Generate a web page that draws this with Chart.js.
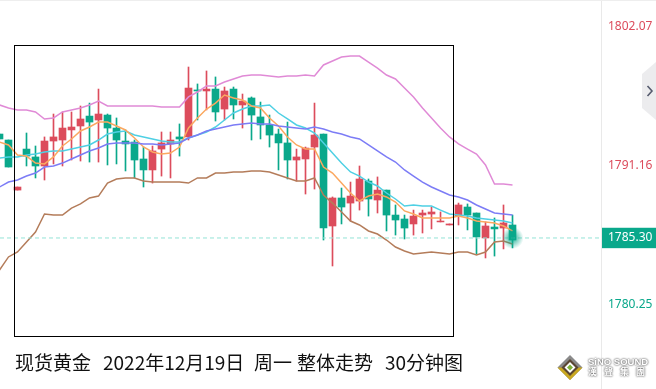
<!DOCTYPE html>
<html>
<head>
  <meta charset="utf-8">
  <title>现货黄金 30分钟图</title>
  <script src="https://cdn.jsdelivr.net/npm/chart.js"></script>
  <style>
    html, body { margin: 0; padding: 0; background: #fff; overflow: hidden; }
    #wrap { position: relative; width: 656px; height: 389px; }
    #wrap canvas { position: absolute; left: 0; top: 0; }
    /* black frame drawn over the chart */
    #frame { position: absolute; left: 14px; top: 45px; width: 438px; height: 290px; border: 1.5px solid #000; }
    #topline { position: absolute; left: 0; top: 0; width: 656px; height: 1px; background: #eee; }
    .title {
      position: absolute; top: 349px; white-space: pre; color: #111;
      font: 19px/26px "Noto Sans CJK SC", sans-serif;
    }
    #tab {
      position: absolute; left: 642px; top: 62px; width: 14px; height: 58px; background: #ececee;
      clip-path: polygon(0 12px, 14px 0, 14px 58px, 0 46px);
    }
    #tab svg { position: absolute; left: 4px; top: 22px; }
    #logo { position: absolute; left: 556px; top: 354px; }
    #logotext {
      position: absolute; left: 588px; top: 357px; color: #fff; font: bold 9.5px/10px "Liberation Sans", sans-serif;
      text-shadow: 0 0 2px #666, 0 0 2px #666; white-space: pre;
    }
    #logotext span { font: bold 9px/10px "Noto Sans CJK TC", sans-serif; letter-spacing: 7px; }
  </style>
</head>
<body>
  <div id="wrap">
    <canvas id="goldChart" width="656" height="389"></canvas>
    <div id="topline"></div>
    <div id="frame"></div>
    <div id="tab"><svg width="8" height="14"><path d="M1.5 2 L6 7 L1.5 12" fill="none" stroke="#555b6e" stroke-width="1.6"/></svg></div>
    <div class="title" style="left:15px">现货黄金</div>
    <div class="title" style="left:103px">2022年12月19日</div>
    <div class="title" style="left:254px">周一</div>
    <div class="title" style="left:297px">整体走势</div>
    <div class="title" style="left:385px">30分钟图</div>
    <svg id="logo" width="28" height="28" viewBox="0 0 28 28">
      <polygon points="14,1 26.5,13.5 14,26 1.5,13.5" fill="#8a8a8a"/>
      <polygon points="1.5,13.5 14,26 26.5,13.5 21,13.5 14,20.5 7,13.5" fill="#c9a820"/>
      <polygon points="14,5 22.5,13.5 14,22 5.5,13.5" fill="#5a4632"/>
      <polygon points="14,8 19.5,13.5 14,19 8.5,13.5" fill="#fff"/>
      <polygon points="14,10.5 17,13.5 14,16.5 11,13.5" fill="#7fb23a"/>
    </svg>
    <div id="logotext">SiNO SOUND
<span>漢聲集團</span></div>
  </div>

  <script>
    const opens = [1793.67, 1793.20, 1789.27, 1792.49, 1791.87, 1791.16, 1793.12, 1793.20, 1793.99, 1794.30, 1795.08, 1794.77, 1795.16, 1794.14, 1793.12, 1793.04, 1791.71, 1790.85, 1792.49, 1792.89, 1793.44, 1793.44, 1797.13, 1797.05, 1797.20, 1795.63, 1797.20, 1795.95, 1796.50, 1795.01, 1794.38, 1793.67, 1792.97, 1791.63, 1791.71, 1792.65, 1793.67, 1786.45, 1788.65, 1788.25, 1788.41, 1789.98, 1788.49, 1789.27, 1787.31, 1787.00, 1786.61, 1787.31, 1787.39, 1786.77, 1786.53, 1787.23, 1787.94, 1787.47, 1785.51, 1786.37, 1786.29, 1786.53];
    const closes = [1793.28, 1791.08, 1789.51, 1791.94, 1791.16, 1793.12, 1793.44, 1794.14, 1794.22, 1794.85, 1794.61, 1795.24, 1794.14, 1793.20, 1792.89, 1791.63, 1790.85, 1792.34, 1792.97, 1793.20, 1793.28, 1797.28, 1797.05, 1797.20, 1795.40, 1797.05, 1795.95, 1796.26, 1795.16, 1794.38, 1793.59, 1792.97, 1791.63, 1791.87, 1792.57, 1793.59, 1786.29, 1788.65, 1787.94, 1788.80, 1790.14, 1788.57, 1789.27, 1787.31, 1786.92, 1786.29, 1787.23, 1787.47, 1787.55, 1786.84, 1786.61, 1788.10, 1787.31, 1785.59, 1786.45, 1786.22, 1786.69, 1785.35];
    const highs = [1793.67, 1793.20, 1789.51, 1793.75, 1792.73, 1793.44, 1795.24, 1795.40, 1795.40, 1795.87, 1796.10, 1797.20, 1795.24, 1794.93, 1793.99, 1793.20, 1792.65, 1792.73, 1793.83, 1793.83, 1794.46, 1798.93, 1797.60, 1798.62, 1798.15, 1797.36, 1797.36, 1796.81, 1796.58, 1796.18, 1795.16, 1794.06, 1794.61, 1792.49, 1792.65, 1796.10, 1793.67, 1788.73, 1789.43, 1789.90, 1791.16, 1790.14, 1790.30, 1789.27, 1788.10, 1787.31, 1787.70, 1787.70, 1787.94, 1787.55, 1786.61, 1788.25, 1788.18, 1787.47, 1786.77, 1787.08, 1788.10, 1787.31];
    const lows = [1793.28, 1791.08, 1789.27, 1791.16, 1790.22, 1790.06, 1791.32, 1791.16, 1791.63, 1791.55, 1791.47, 1791.47, 1791.24, 1791.32, 1790.77, 1790.22, 1789.51, 1789.82, 1790.37, 1790.22, 1791.94, 1793.20, 1794.77, 1795.56, 1794.69, 1794.77, 1794.85, 1794.14, 1793.20, 1793.28, 1792.65, 1790.85, 1790.14, 1789.98, 1788.96, 1789.35, 1785.35, 1783.31, 1786.61, 1786.84, 1787.70, 1787.23, 1787.47, 1786.06, 1785.74, 1785.43, 1785.74, 1785.90, 1786.22, 1786.77, 1786.53, 1786.53, 1786.14, 1784.25, 1783.94, 1784.09, 1784.65, 1784.73];

    // bollinger bands and moving averages
    const upperBand = [1795.95, 1795.71, 1795.56, 1795.56, 1795.40, 1794.85, 1794.93, 1795.40, 1795.56, 1795.71, 1795.95, 1796.26, 1795.87, 1795.87, 1795.87, 1795.87, 1795.87, 1795.87, 1795.79, 1795.79, 1795.79, 1796.58, 1796.97, 1797.44, 1797.44, 1797.75, 1797.99, 1798.22, 1798.30, 1798.30, 1798.22, 1798.15, 1798.22, 1798.22, 1798.30, 1798.22, 1799.09, 1799.40, 1799.72, 1799.79, 1799.79, 1799.32, 1798.85, 1798.30, 1797.99, 1797.28, 1796.58, 1795.71, 1794.93, 1794.14, 1793.44, 1792.89, 1792.49, 1792.10, 1791.24, 1789.75, 1789.75, 1789.67];
    const midBand = [1789.51, 1789.90, 1790.06, 1790.37, 1790.61, 1791.08, 1791.16, 1791.39, 1791.71, 1792.02, 1792.34, 1792.57, 1792.89, 1792.97, 1792.97, 1792.97, 1792.89, 1792.89, 1792.81, 1792.89, 1792.97, 1793.36, 1793.59, 1793.91, 1794.06, 1794.22, 1794.38, 1794.46, 1794.53, 1794.46, 1794.46, 1794.30, 1794.22, 1794.14, 1794.06, 1794.22, 1794.06, 1793.83, 1793.67, 1793.44, 1793.28, 1792.81, 1792.34, 1791.87, 1791.47, 1790.85, 1790.37, 1789.90, 1789.51, 1789.20, 1788.88, 1788.73, 1788.49, 1788.10, 1787.78, 1787.47, 1787.39, 1787.31];
    const lowerBand = [1782.98, 1784.02, 1784.41, 1785.20, 1785.98, 1787.39, 1787.31, 1787.31, 1787.86, 1788.18, 1788.65, 1788.80, 1789.82, 1790.14, 1790.22, 1790.22, 1789.98, 1789.90, 1789.90, 1789.90, 1789.90, 1789.82, 1790.22, 1790.22, 1790.61, 1790.61, 1790.69, 1790.69, 1790.77, 1790.77, 1790.69, 1790.45, 1790.22, 1789.98, 1789.98, 1790.22, 1788.88, 1788.25, 1787.55, 1786.84, 1786.53, 1786.06, 1785.82, 1785.35, 1784.80, 1784.49, 1784.25, 1784.33, 1784.41, 1784.33, 1784.25, 1784.41, 1784.41, 1784.17, 1784.41, 1785.20, 1785.27, 1785.04];
    const maFast = [1793.04, 1792.81, 1792.02, 1791.94, 1791.39, 1791.32, 1791.87, 1792.73, 1793.28, 1793.91, 1794.22, 1794.61, 1794.61, 1794.30, 1793.99, 1793.36, 1792.65, 1792.26, 1792.10, 1792.18, 1792.65, 1794.14, 1794.93, 1795.63, 1796.10, 1796.73, 1796.50, 1796.34, 1795.87, 1795.71, 1794.93, 1794.30, 1793.44, 1792.81, 1792.49, 1792.49, 1791.08, 1790.61, 1789.82, 1789.04, 1788.41, 1788.80, 1788.96, 1788.73, 1788.33, 1787.63, 1787.39, 1787.08, 1787.08, 1787.08, 1787.08, 1787.23, 1787.08, 1786.84, 1786.77, 1786.69, 1786.45, 1786.06];
    const maSlow = [1791.79, 1791.87, 1791.87, 1792.02, 1792.10, 1792.26, 1792.34, 1792.34, 1792.49, 1792.65, 1792.81, 1793.20, 1793.67, 1793.83, 1793.91, 1793.59, 1793.44, 1793.28, 1793.12, 1793.04, 1793.04, 1793.36, 1793.59, 1793.83, 1794.22, 1794.77, 1795.32, 1795.63, 1795.87, 1795.87, 1795.95, 1795.32, 1794.85, 1794.38, 1794.14, 1793.75, 1792.97, 1792.18, 1791.39, 1790.69, 1790.37, 1789.90, 1789.59, 1789.04, 1788.57, 1788.02, 1788.10, 1788.02, 1788.02, 1787.70, 1787.39, 1787.31, 1787.23, 1787.08, 1787.00, 1786.92, 1786.84, 1786.69];

    const tickValues = [1780.25, 1785.51, 1791.16, 1802.07];
    const tickLabels = ['1780.25', '1785.30', '1791.16', '1802.07'];
    const lastPriceLevel = 1785.51;

    const red = '#dc4c5c';
    const green = '#0aa88b';
    const xMin = 0.056;
    const xMax = 66.833;

    const candleColor = opens.map((o, i) => closes[i] >= o ? red : green);
    const bodies = opens.map((o, i) => ({ x: i, y: [o, closes[i]] }));
    const wicks = lows.map((l, i) => ({ x: i, y: [l, highs[i]] }));
    const toLine = arr => arr.map((v, i) => ({ x: i, y: v }));

    function lineSet(label, arr, color) {
      return {
        type: 'line', label: label, data: toLine(arr), borderColor: color,
        borderWidth: 1.5, pointRadius: 0, tension: 0, order: 2
      };
    }

    const chart = new Chart(document.getElementById('goldChart').getContext('2d'), {
      data: {
        datasets: [
          // glow on the last price
          {
            type: 'scatter', label: 'last', data: [{ x: opens.length - 1, y: lastPriceLevel }], order: 0,
            pointRadius: 11, borderWidth: 0,
            backgroundColor: function(c) {
              const s = c.chart.scales;
              const px = s.x ? s.x.getPixelForValue(opens.length - 1) : NaN;
              const py = s.y ? s.y.getPixelForValue(lastPriceLevel) : NaN;
              if (!isFinite(px) || !isFinite(py)) return 'rgba(10,168,139,0.2)';
              const g = c.chart.ctx.createRadialGradient(px, py, 0, px, py, 11);
              g.addColorStop(0, 'rgba(10,168,139,0.9)');
              g.addColorStop(0.4, 'rgba(10,168,139,0.55)');
              g.addColorStop(1, 'rgba(10,168,139,0)');
              return g;
            }
          },
          {
            type: 'line', label: 'price', data: [{ x: xMin, y: lastPriceLevel }, { x: xMax, y: lastPriceLevel }],
            borderColor: '#93e3d6', borderWidth: 1, borderDash: [4, 3], pointRadius: 0, order: 1
          },
          lineSet('UPPER', upperBand, '#e08ad6'),
          lineSet('MID', midBand, '#7c7cf6'),
          lineSet('LOWER', lowerBand, '#b47c5a'),
          lineSet('MA fast', maFast, '#fba860'),
          lineSet('MA slow', maSlow, '#4fd0e4'),
          { type: 'bar', label: 'body', data: bodies, backgroundColor: candleColor, barThickness: 7, grouped: false, order: 3 },
          { type: 'bar', label: 'wick', data: wicks, backgroundColor: candleColor, barThickness: 1, grouped: false, order: 4 }
        ]
      },
      options: {
        responsive: false,
        animation: false,
        events: [],
        layout: { autoPadding: false, padding: 0 },
        plugins: { legend: { display: false }, tooltip: { enabled: false } },
        scales: {
          x: { type: 'linear', offset: false, min: xMin, max: xMax, display: false },
          y: {
            position: 'right',
            min: 1773.654,
            max: 1804.191,
            afterFit: s => { s.width = 55; s.paddingTop = 0; s.paddingBottom = 0; },
            afterBuildTicks: s => { s.ticks = tickValues.map(v => ({ value: v })); },
            grid: { display: false, drawTicks: false, tickLength: 0 },
            border: { color: '#e9e9e9' },
            ticks: {
              autoSkip: false,
              padding: 7,
              font: { family: '"Noto Sans", sans-serif', size: 12 },
              callback: v => tickLabels[tickValues.indexOf(v)],
              color: c => c.index === 1 ? '#fff' : (c.index === 0 ? green : red),
              showLabelBackdrop: c => c.index === 1,
              backdropColor: green,
              backdropPadding: { x: 6, y: 3 }
            }
          }
        }
      }
    });
  </script>
</body>
</html>
